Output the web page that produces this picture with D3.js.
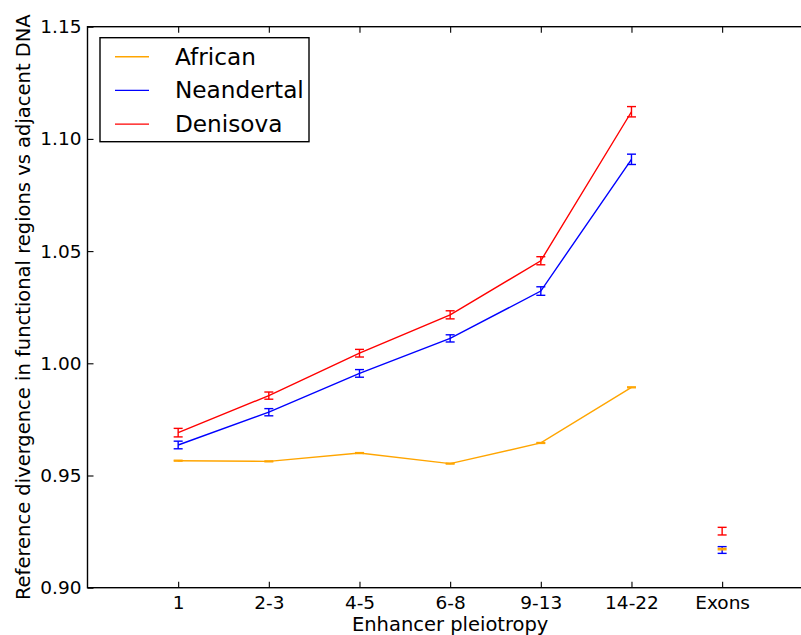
<!DOCTYPE html>
<html>
<head>
<meta charset="utf-8">
<script src="https://cdn.jsdelivr.net/npm/d3@7"></script>
<style>
  body { margin: 0; background: #fff; }
  svg { display: block; font-family: "DejaVu Sans", sans-serif; }
</style>
</head>
<body>
<div id="chart"></div>
<script>
// categories
const categories = ["1", "2-3", "4-5", "6-8", "9-13", "14-22", "Exons"];

// series values (last entry = Exons, drawn as isolated error bar)
const african    = [0.9566, 0.9563, 0.9600, 0.9553, 0.9645, 0.9893, 0.9172];
const africanErr = [0.0002, 0.0002, 0.0002, 0.0002, 0.0002, 0.0002, 0.0003];
const neandertal    = [0.9636, 0.9782, 0.9955, 1.0111, 1.0322, 1.0909, 0.9168];
const neandertalErr = [0.0017, 0.0016, 0.0017, 0.0016, 0.0019, 0.0023, 0.0015];
const denisova    = [0.9691, 0.9856, 1.0045, 1.0216, 1.0457, 1.1121, 0.9252];
const denisovaErr = [0.0019, 0.0016, 0.0017, 0.0018, 0.0018, 0.0023, 0.0017];

const yTicks = [0.90, 0.95, 1.00, 1.05, 1.10, 1.15];

const series = [
    {name: "Neandertal", values: neandertal, err: neandertalErr, color: "#0000ff"},
    {name: "Denisova", values: denisova, err: denisovaErr, color: "#ff0000"},
    {name: "African", values: african, err: africanErr, color: "#ffa500"}
];
const legendOrder = ["African", "Neandertal", "Denisova"];

const W = 801, H = 635;
const m = {left: 87.5, right: 812.8, top: 26.7, bottom: 587.7};

const svg = d3.select("#chart").append("svg")
    .attr("width", W)
    .attr("height", H);

const x = d3.scaleLinear().domain([0, 8]).range([m.left, m.right]);
const y = d3.scaleLinear().domain([0.90, 1.15]).range([m.bottom, m.top]);

// lines (first six categories)
const line = d3.line()
    .x((d, i) => x(i + 1))
    .y(d => y(d));

series.forEach(s => {
    svg.append("path")
        .datum(s.values.slice(0, 6))
        .attr("d", line)
        .attr("fill", "none")
        .attr("stroke", s.color)
        .attr("stroke-width", 1.4);
});

// error bars
series.forEach(s => {
    const g = svg.append("g").attr("stroke", s.color).attr("stroke-width", 1.4);
    s.values.forEach((v, i) => {
        const cx = x(i + 1);
        const y1 = y(v - s.err[i]), y2 = y(v + s.err[i]);
        g.append("line").attr("x1", cx).attr("x2", cx).attr("y1", y1).attr("y2", y2);
        g.append("line").attr("x1", cx - 4.5).attr("x2", cx + 4.5).attr("y1", y1).attr("y2", y1);
        g.append("line").attr("x1", cx - 4.5).attr("x2", cx + 4.5).attr("y1", y2).attr("y2", y2);
    });
});

// axes
const xTickVals = categories.map((c, i) => i + 1);

svg.append("g")
    .attr("transform", `translate(0,${m.bottom})`)
    .call(d3.axisBottom(x).tickValues(xTickVals)
        .tickFormat((d, i) => categories[i])
        .tickSizeInner(-6).tickSizeOuter(0).tickPadding(8))
    .call(g => g.select(".domain").remove())
    .selectAll("text").attr("font-size", 18.5).attr("font-family", "DejaVu Sans").attr("fill", "#000");

svg.append("g")
    .attr("transform", `translate(0,${m.top})`)
    .call(d3.axisTop(x).tickValues(xTickVals).tickFormat("")
        .tickSizeInner(-6).tickSizeOuter(0))
    .call(g => g.select(".domain").remove());

svg.append("g")
    .attr("transform", `translate(${m.left},0)`)
    .call(d3.axisLeft(y).tickValues(yTicks).tickFormat(d3.format(".2f"))
        .tickSizeInner(-6).tickSizeOuter(0).tickPadding(6))
    .call(g => g.select(".domain").remove())
    .selectAll("text").attr("font-size", 18.5).attr("font-family", "DejaVu Sans").attr("fill", "#000");

svg.selectAll(".tick line").attr("stroke", "#000").attr("stroke-width", 1.1);

// frame
svg.append("rect")
    .attr("x", m.left).attr("y", m.top)
    .attr("width", m.right - m.left).attr("height", m.bottom - m.top)
    .attr("fill", "none").attr("stroke", "#000").attr("stroke-width", 1.4);

// axis labels
svg.append("text")
    .attr("x", (m.left + m.right) / 2)
    .attr("y", 631)
    .attr("text-anchor", "middle")
    .attr("font-size", 19.5)
    .text("Enhancer pleiotropy");

svg.append("text")
    .attr("transform", `translate(30,${(m.top + m.bottom) / 2}) rotate(-90)`)
    .attr("text-anchor", "middle")
    .attr("font-size", 19.5)
    .text("Reference divergence in functional regions vs adjacent DNA");

// legend
const lg = svg.append("g");
lg.append("rect")
    .attr("x", 100).attr("y", 37.7)
    .attr("width", 209).attr("height", 104)
    .attr("fill", "#fff").attr("stroke", "#000").attr("stroke-width", 1.4);

legendOrder.forEach((name, i) => {
    const s = series.find(d => d.name === name);
    const ly = 56.7 + i * 33.7;
    lg.append("line")
        .attr("x1", 115).attr("x2", 149)
        .attr("y1", ly).attr("y2", ly)
        .attr("stroke", s.color).attr("stroke-width", 1.4);
    lg.append("text")
        .attr("x", 175).attr("y", ly + 8)
        .attr("font-size", 23.2)
        .text(name);
});
</script>
</body>
</html>
